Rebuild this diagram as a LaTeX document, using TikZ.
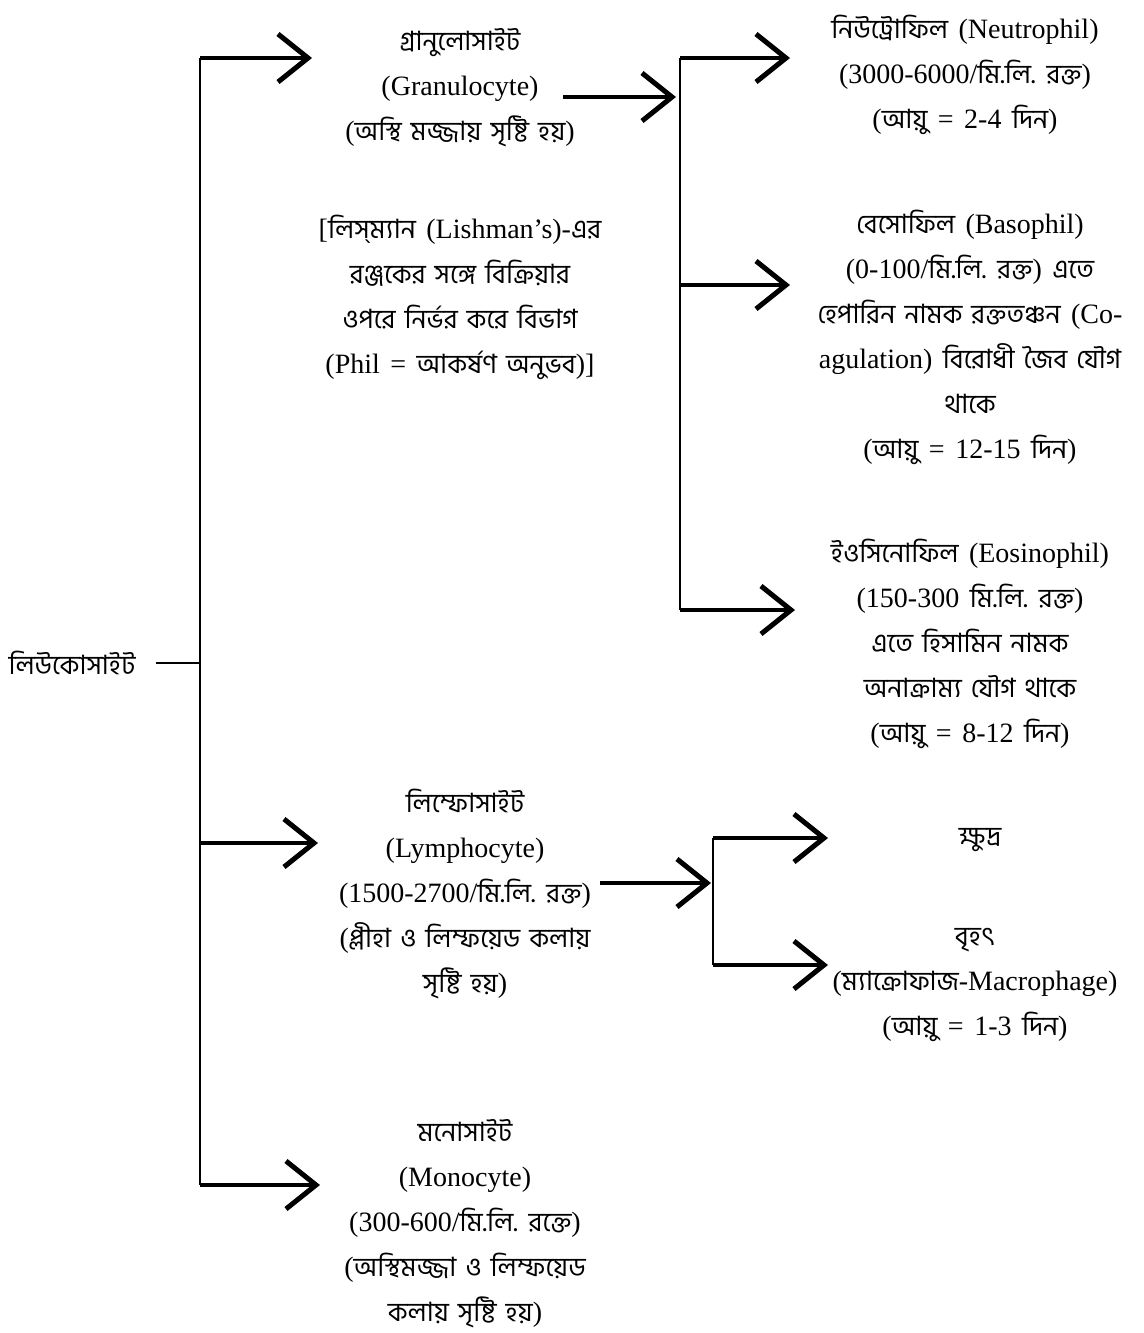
\documentclass[tikz,border=0pt]{standalone}
\usepackage{fontspec}
\setmainfont[WordSpace=1.5]{Liberation Serif}
\newfontfamily\bnfont[Script=Bengali,Scale=0.95,WordSpace=1.5]{Hind Siliguri}
\newcommand{\B}[1]{{\bnfont #1}}
\usetikzlibrary{arrows.meta}
\tikzset{
  txt/.style={align=center, font=\fontsize{28}{45}\selectfont, inner sep=0pt},
  trunk/.style={line width=2.5pt},
  arr/.style={line width=4pt, -{Straight Barb[length=30pt,width=48pt,line width=5pt]}},
}
\begin{document}
\begin{tikzpicture}[x=1pt,y=-1pt]
\useasboundingbox (0,0) rectangle (1143,1333);
% nodes
\node[txt] (leuk) at (72,663) {\B{লিউকোসাইট}};
\node[txt] (gran) at (460,88) {\B{গ্রানুলোসাইট}\\(Granulocyte)\\(\B{অস্থি মজ্জায় সৃষ্টি হয়})};
\node[txt] (lish) at (460,297) {[\B{লিস্‌ম্যান} (Lishman’s)-\B{এর}\\\B{রঞ্জকের সঙ্গে বিক্রিয়ার}\\\B{ওপরে নির্ভর করে বিভাগ}\\(Phil = \B{আকর্ষণ অনুভব})]};
\node[txt] (neut) at (965,75) {\B{নিউট্রোফিল} (Neutrophil)\\(3000-6000/\B{মি.লি. রক্ত})\\(\B{আয়ু} = 2-4 \B{দিন})};
\node[txt] (baso) at (970,337) {\B{বেসোফিল} (Basophil)\\(0-100/\B{মি.লি. রক্ত}) \B{এতে}\\\B{হেপারিন নামক রক্ততঞ্চন} (Co-\\agulation) \B{বিরোধী জৈব যৌগ}\\\B{থাকে}\\(\B{আয়ু} = 12-15 \B{দিন})};
\node[txt] (eos) at (970,644) {\B{ইওসিনোফিল} (Eosinophil)\\(150-300 \B{মি.লি. রক্ত})\\\B{এতে হিসামিন নামক}\\\B{অনাক্রাম্য যৌগ থাকে}\\(\B{আয়ু} = 8-12 \B{দিন})};
\node[txt] (lymph) at (465,894) {\B{লিম্ফোসাইট}\\(Lymphocyte)\\(1500-2700/\B{মি.লি. রক্ত})\\(\B{প্লীহা ও লিম্ফয়েড কলায়}\\\B{সৃষ্টি হয়})};
\node[txt] (small) at (980,840) {\B{ক্ষুদ্র}};
\node[txt] (large) at (975,985) {\B{বৃহৎ}\\(\B{ম্যাক্রোফাজ}-Macrophage)\\(\B{আয়ু} = 1-3 \B{দিন})};
\node[txt] (mono) at (465,1224) {\B{মনোসাইট}\\(Monocyte)\\(300-600/\B{মি.লি. রক্তে})\\(\B{অস্থিমজ্জা ও লিম্ফয়েড}\\\B{কলায় সৃষ্টি হয়})};
% coordinates
\coordinate (j1) at (200,663);
\coordinate (mtop) at (200,58);
\coordinate (mlym) at (200,843);
\coordinate (mbot) at (200,1185);
\coordinate (tgran) at (312,58);
\coordinate (tlym) at (318,843);
\coordinate (tmono) at (320,1185);
\coordinate (gs) at (563,97);
\coordinate (gt) at (676,97);
\coordinate (v2top) at (680,58);
\coordinate (v2mid) at (680,285);
\coordinate (v2bot) at (680,610);
\coordinate (tneut) at (790,58);
\coordinate (tbaso) at (790,285);
\coordinate (teos) at (795,610);
\coordinate (ls) at (600,883);
\coordinate (lt) at (711,883);
\coordinate (v3top) at (713,838);
\coordinate (v3bot) at (713,965);
\coordinate (tsmall) at (828,838);
\coordinate (tlarge) at (828,965);
% connectors
\draw[trunk] ([xshift=20pt]leuk.east) -- (j1);
\draw[trunk] (mtop) -- (mbot);
\draw[arr] (mtop) -- (tgran);
\draw[arr] (mlym) -- (tlym);
\draw[arr] (mbot) -- (tmono);
\draw[arr] (gs) -- (gt);
\draw[trunk] (v2top) -- (v2bot);
\draw[arr] (v2top) -- (tneut);
\draw[arr] (v2mid) -- (tbaso);
\draw[arr] (v2bot) -- (teos);
\draw[arr] (ls) -- (lt);
\draw[trunk] (v3top) -- (v3bot);
\draw[arr] (v3top) -- (tsmall);
\draw[arr] (v3bot) -- (tlarge);
\end{tikzpicture}
\end{document}
